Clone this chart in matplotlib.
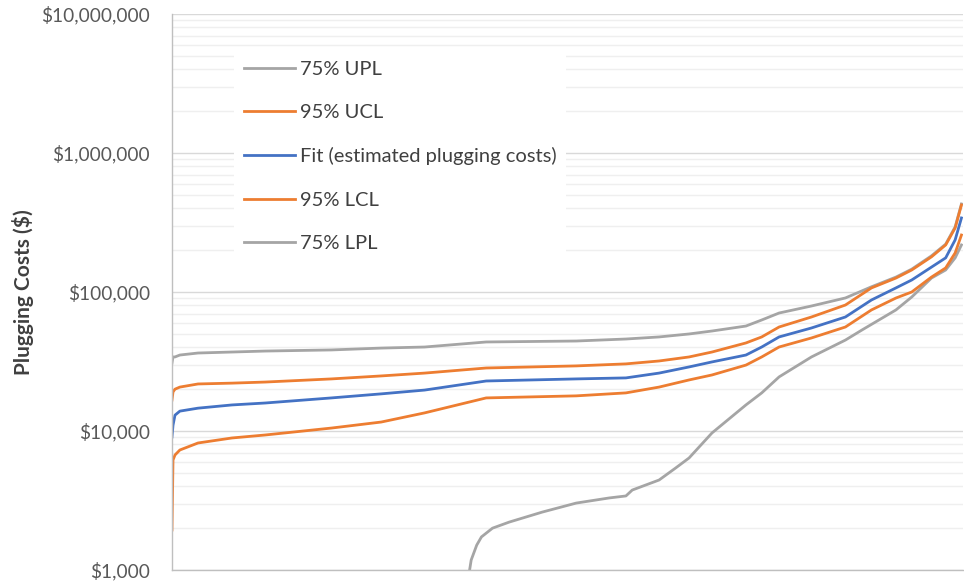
import matplotlib
matplotlib.use("Agg")
import matplotlib.pyplot as plt
from matplotlib.ticker import FuncFormatter, LogLocator, NullFormatter

plt.rcParams['font.family'] = ['Lato', 'DejaVu Sans']

# well rank as percent of all wells (sorted by estimated cost)
pct = [0, 0.13, 0.38, 1.0, 3.3, 7.6, 11.8, 20.2, 26.5, 32.0, 39.8, 51.2, 57.5,
       61.7, 65.5, 68.4, 72.7, 74.7, 76.9, 81.0, 85.3, 88.6, 91.7, 93.7, 96.2,
       98.0, 99.2, 100]

fit = [9060, 11000, 13000, 13900, 14600, 15400, 15900, 17300, 18500, 19700,
       22900, 23700, 24100, 26100, 28900, 31400, 35200, 40200, 47500, 55100,
       66100, 87600, 107000, 122000, 151000, 176000, 237000, 341000]
ucl = [16700, 19100, 20000, 20700, 21800, 22100, 22500, 23700, 24900, 26100,
       28400, 29400, 30400, 31900, 34100, 37000, 43000, 47500, 56000, 66100,
       80600, 107000, 126000, 144000, 179000, 218000, 289000, 423000]
lcl = [1940, 6180, 6720, 7300, 8200, 8910, 9360, 10500, 11600, 13500,
       17300, 17900, 18800, 20700, 23300, 25300, 29800, 34100, 40200, 46700,
       56000, 74300, 90500, 100000, 128000, 149000, 191000, 257000]
upl = [30800, 34100, 34100, 35200, 36400, 37000, 37600, 38300, 39500, 40200,
       43700, 44400, 45900, 47500, 49900, 52400, 56900, 62900, 70600, 79300,
       90600, 109000, 128000, 146000, 182000, 221000, 294000, 430000]

# lower prediction limit only rises above $1,000 part way along
lpl_pct = [37.7, 37.9, 38.6, 39.2, 40.6, 42.7, 46.9, 51.2, 55.4, 57.5, 58.3,
           61.7, 63.8, 65.5, 68.4, 72.7, 74.7, 76.9, 81.0, 85.3, 87.4, 91.7,
           93.7, 96.2, 98.0, 99.2, 100]
lpl = [1000, 1180, 1510, 1730, 2000, 2210, 2610, 3030, 3300, 3410, 3760,
       4440, 5420, 6400, 9680, 15400, 18800, 24500, 34100, 45100, 53300,
       74300, 92000, 126000, 144000, 176000, 218000]

gray = '#A5A5A5'
orange = '#ED7D31'
blue = '#4472C4'

fig = plt.figure(figsize=(9.64, 5.86), dpi=100)
ax = fig.add_axes([0.1784, 0.0273, 0.8206, 0.9488])

lw = 2.0
h_upl, = ax.plot(pct, upl, color=gray, lw=lw, label='75% UPL')
h_lpl, = ax.plot(lpl_pct, lpl, color=gray, lw=lw, label='75% LPL')
h_ucl, = ax.plot(pct, ucl, color=orange, lw=lw, label='95% UCL')
h_lcl, = ax.plot(pct, lcl, color=orange, lw=lw, label='95% LCL')
h_fit, = ax.plot(pct, fit, color=blue, lw=lw, label='Fit (estimated plugging costs)')

ax.set_yscale('log')
ax.set_ylim(1000, 1e7)
ax.set_xlim(0, 100.2)

ax.yaxis.set_major_locator(LogLocator(base=10))
ax.yaxis.set_minor_locator(LogLocator(base=10, subs=range(2, 10)))
ax.yaxis.set_major_formatter(FuncFormatter(lambda v, _: '${:,.0f}'.format(v)))
ax.yaxis.set_minor_formatter(NullFormatter())
ax.tick_params(axis='y', which='both', length=0, pad=16, labelsize=13.8,
               labelcolor='#595959')
ax.set_xticks([])

ax.grid(True, which='major', axis='y', color='#D9D9D9', lw=1.0)
ax.grid(True, which='minor', axis='y', color='#EFEFEF', lw=1.0)
ax.set_axisbelow(True)

for side in ['top', 'right']:
    ax.spines[side].set_visible(False)
for side in ['left', 'bottom']:
    ax.spines[side].set_color('#BFBFBF')
    ax.spines[side].set_linewidth(1.0)

ax.set_ylabel('Plugging Costs ($)', fontsize=15, fontweight='bold',
              color='#404040', labelpad=5)

leg = ax.legend(handles=[h_upl, h_ucl, h_fit, h_lcl, h_lpl],
                loc='upper left', bbox_to_anchor=(0.066, 0.952),
                frameon=True, fancybox=False, framealpha=1, facecolor='white',
                edgecolor='none', fontsize=14.5, handlelength=2.5,
                handletextpad=0.25, labelspacing=1.3, borderpad=0.5)
for t in leg.get_texts():
    t.set_color('#404040')

fig.savefig('out.png', dpi=100)
